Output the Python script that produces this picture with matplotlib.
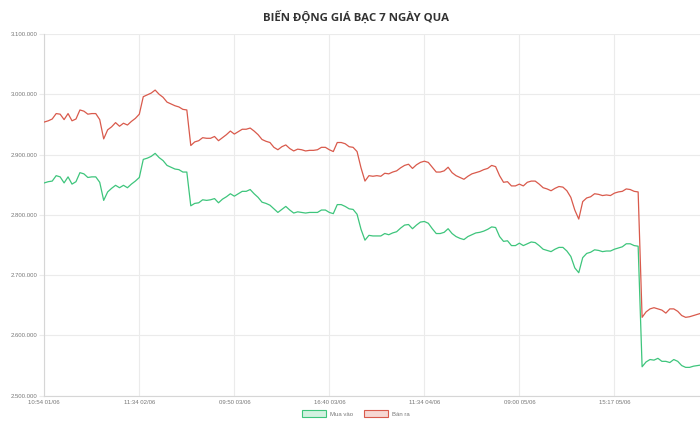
import numpy as np
import matplotlib
matplotlib.use("Agg")
import matplotlib.pyplot as plt
from matplotlib.patches import Patch
from matplotlib.ticker import FuncFormatter, MultipleLocator

title = "BIẾN ĐỘNG GIÁ BẠC 7 NGÀY QUA"
series_names = ["Mua vào", "Bán ra"]
tick_labels = ["10:54 01/06", "11:34 02/06", "09:50 03/06", "16:40 03/06",
               "11:34 04/06", "09:00 05/06", "15:17 05/06"]
points_per_tick = 24

# Giá bán ra (VND, nghìn)
sell_k = [2954, 2956, 2959, 2968, 2967, 2958, 2968, 2956, 2959, 2974,
          2972, 2967, 2968, 2968, 2958, 2926, 2941, 2946, 2953, 2947,
          2952, 2949, 2955, 2960, 2967, 2996, 2999, 3002, 3007, 3000,
          2995, 2987, 2984, 2981, 2979, 2975, 2974, 2915, 2921, 2923,
          2928, 2927, 2927, 2930, 2923, 2928, 2933, 2939, 2934, 2938,
          2942, 2942, 2944, 2939, 2933, 2925, 2922, 2920, 2912, 2908,
          2913, 2916, 2910, 2906, 2909, 2908, 2906, 2907, 2907, 2908,
          2912, 2912, 2908, 2905, 2920, 2920, 2918, 2913, 2912, 2905,
          2878, 2856, 2865, 2864, 2865, 2864, 2869, 2868, 2871, 2873,
          2878, 2882, 2884, 2877, 2883, 2887, 2889, 2887, 2879, 2871,
          2871, 2873, 2879, 2870, 2865, 2862, 2859, 2864, 2868, 2870,
          2872, 2875, 2877, 2882, 2880, 2865, 2854, 2855, 2848, 2848,
          2851, 2848, 2854, 2856, 2856, 2851, 2845, 2843, 2840, 2844,
          2847, 2846, 2840, 2829, 2808, 2793, 2822, 2828, 2830, 2835,
          2834, 2832, 2833, 2832, 2836, 2838, 2839, 2843, 2842, 2839,
          2838, 2630, 2639, 2644, 2646, 2644, 2642, 2637, 2644, 2644,
          2640, 2633, 2630, 2631, 2633, 2635, 2637]

# Giá mua vào (VND, nghìn)
buy_k = [2853, 2855, 2856, 2865, 2863, 2853, 2863, 2851, 2855, 2870,
         2868, 2862, 2863, 2863, 2854, 2824, 2838, 2844, 2849, 2845,
         2849, 2845, 2851, 2856, 2862, 2892, 2894, 2897, 2902, 2895,
         2890, 2882, 2879, 2876, 2875, 2871, 2871, 2815, 2819, 2820,
         2825, 2824, 2825, 2827, 2820, 2826, 2830, 2835, 2831, 2835,
         2839, 2839, 2842, 2835, 2829, 2821, 2819, 2816, 2810, 2804,
         2809, 2814, 2808, 2803, 2805, 2804, 2803, 2804, 2804, 2804,
         2808, 2808, 2804, 2802, 2817, 2817, 2814, 2810, 2809, 2801,
         2776, 2758, 2766, 2765, 2765, 2765, 2769, 2767, 2770, 2772,
         2778, 2783, 2784, 2777, 2783, 2788, 2789, 2786, 2777, 2769,
         2769, 2771, 2777, 2769, 2764, 2761, 2759, 2764, 2767, 2770,
         2771, 2773, 2776, 2780, 2779, 2764, 2756, 2757, 2749, 2749,
         2753, 2749, 2752, 2755, 2754, 2749, 2743, 2741, 2739, 2743,
         2746, 2746, 2740, 2731, 2712, 2704, 2729, 2736, 2738, 2742,
         2741, 2739, 2740, 2740, 2743, 2745, 2747, 2752, 2752, 2749,
         2748, 2548, 2556, 2560, 2559, 2562, 2557, 2557, 2555, 2560,
         2557, 2550, 2547, 2547, 2549, 2550, 2551]

sell = np.array(sell_k) * 1000
buy = np.array(buy_k) * 1000
x = np.arange(len(sell))

GREEN = "#3ec57c"
RED = "#d95a4c"
GRID = "#ebebeb"
AXIS = "#d6d6d6"
TXT = "#777777"

W, H = 700, 434
fig = plt.figure(figsize=(W / 100, H / 100), dpi=100)
fig.patch.set_facecolor("white")

left, right = 44.3, 709.4
top, bottom = 34.0, 395.7
ax = fig.add_axes([left / W, (H - bottom) / H, (right - left) / W, (bottom - top) / H])

ax.plot(x, buy, color=GREEN, lw=0.9, solid_joinstyle="round", zorder=3)
ax.plot(x, sell, color=RED, lw=0.9, solid_joinstyle="round", zorder=3)

ax.set_xlim(0, 7 * points_per_tick)
ax.set_ylim(2500000, 3100000)
ax.yaxis.set_major_locator(MultipleLocator(100000))
ax.yaxis.set_major_formatter(FuncFormatter(lambda v, p: f"{v:,.0f}".replace(",", ".")))

ticks = np.arange(len(tick_labels)) * points_per_tick
ax.set_xticks(ticks)
ax.set_xticklabels(tick_labels)
ax.set_xticks(np.arange(0, 8) * points_per_tick, minor=True)

ax.grid(True, which="major", color=GRID, lw=0.8, zorder=0)
ax.grid(True, which="minor", axis="x", color=GRID, lw=0.8, zorder=0)

for s in ["top", "right"]:
    ax.spines[s].set_visible(False)
for s in ["left", "bottom"]:
    ax.spines[s].set_color(AXIS)
    ax.spines[s].set_linewidth(0.8)

fontname = "Liberation Sans"
ax.tick_params(axis="y", length=3.5, width=0.8, color=GRID, pad=1.2,
               labelsize=4.3, labelcolor=TXT)
ax.tick_params(axis="x", which="both", length=0, pad=3.0, labelsize=4.3, labelcolor=TXT)
for lab in ax.get_xticklabels() + ax.get_yticklabels():
    lab.set_fontfamily(fontname)

fig.text(356 / W, 1 - 17.5 / H, title, ha="center", va="center",
         fontsize=8.2, fontweight="bold", color="#333333",
         family=["Open Sans", "DejaVu Sans"])

handles = [Patch(facecolor="#d3f1e0", edgecolor=GREEN, lw=0.8),
           Patch(facecolor="#f6d7d3", edgecolor=RED, lw=0.8)]
leg = fig.legend(handles, series_names, loc="center", bbox_to_anchor=(356 / W, 1 - 413.5 / H),
                 ncol=2, frameon=False, prop={"family": fontname, "size": 4.3},
                 handlelength=4.0, handleheight=1.2, handletextpad=0.7,
                 columnspacing=1.8, borderpad=0)
for t in leg.get_texts():
    t.set_color(TXT)

fig.savefig("out.png", dpi=100, facecolor="white")
